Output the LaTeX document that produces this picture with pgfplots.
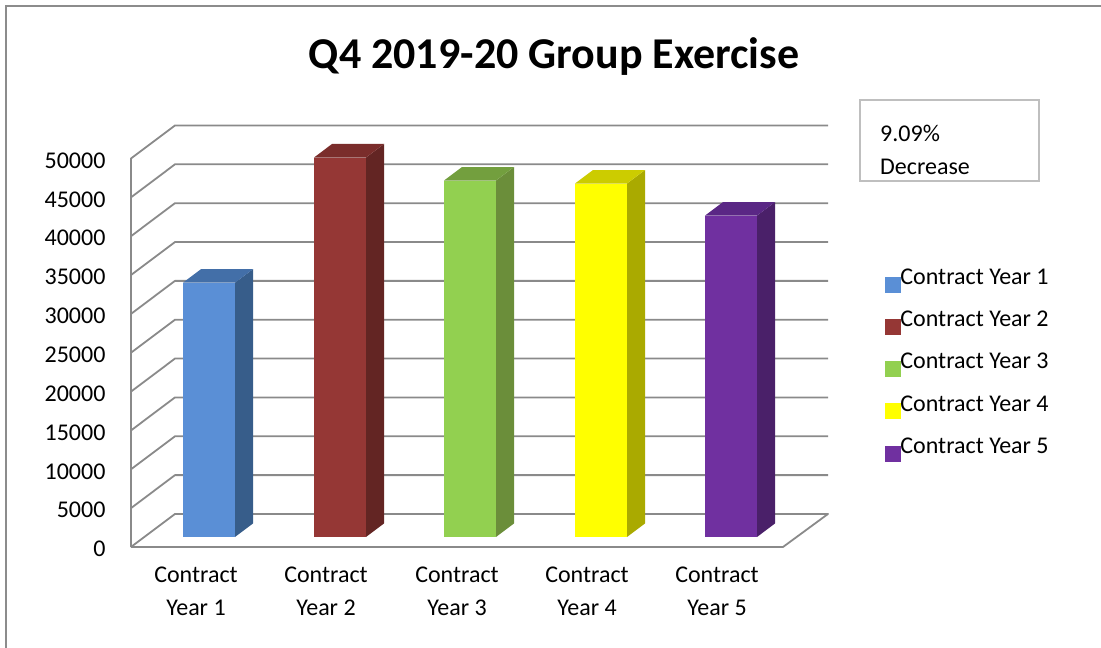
\documentclass[border=0pt]{standalone}
\usepackage{pgfplots}
\usepackage{fontspec}
\setmainfont{Carlito}
\pgfplotsset{compat=1.18}
\definecolor{gridc}{HTML}{8A8A8A}
\definecolor{frm}{HTML}{8C8C8C}
\definecolor{boxc}{HTML}{BFBFBF}
\definecolor{bluef}{HTML}{5A8FD6}\definecolor{blues}{HTML}{375D8A}\definecolor{bluet}{HTML}{436FA8}
\definecolor{redf}{HTML}{953735}\definecolor{reds}{HTML}{632523}\definecolor{redt}{HTML}{7A2D2B}
\definecolor{greenf}{HTML}{92D050}\definecolor{greens}{HTML}{6B8E3A}\definecolor{greent}{HTML}{739F3E}
\definecolor{yelf}{HTML}{FFFF00}\definecolor{yels}{HTML}{AAAA00}\definecolor{yelt}{HTML}{CCCC00}
\definecolor{purf}{HTML}{7030A0}\definecolor{purs}{HTML}{4A2069}\definecolor{purt}{HTML}{5A2785}
\newcommand{\chartfont}{\fontsize{24}{33}\selectfont}
\pgfplotsset{
  face/.style={fill=#1,draw=none,mark=none,forget plot,yshift=10pt},
  wall/.style={draw=gridc,line width=1.8pt,mark=none,forget plot,line join=round},
  legsq/.style={legend image code/.code={\fill[##1] (0pt,-7.5pt) rectangle (15pt,7.5pt);}}
}
\begin{document}
\begin{tikzpicture}
\begin{axis}[
  at={(0pt,0pt)},anchor=south west,
  x=1pt,y=0.00776pt,
  xmin=131,xmax=828,ymin=0,ymax=54253,
  clip=false,
  axis line style={draw=none},
  major tick length=0pt,
  tick style={draw=none},
  scaled y ticks=false,
  ytick={0,5000,10000,15000,20000,25000,30000,35000,40000,45000,50000},
  /pgf/number format/assume math mode=true,
  /pgf/number format/1000 sep={},
  yticklabel style={font=\chartfont,anchor=east,xshift=-22pt,yshift=-2pt},
  xtick={196,326,457,587,717},
  xticklabels={{Contract\\Year 1},{Contract\\Year 2},{Contract\\Year 3},{Contract\\Year 4},{Contract\\Year 5}},
  xticklabel style={font=\chartfont,align=center,anchor=north,yshift=-16pt},
  title={\textbf{Q4 2019-20 Group Exercise}},
  title style={font=\fontsize{44}{50}\selectfont,at={(axis description cs:0.607,1.121)},anchor=base},
  legend style={draw=none,fill=none,at={(axis description cs:1.0818,0.66)},anchor=north west,
    font=\chartfont,row sep=19pt,inner sep=0pt,outer sep=0pt,
    nodes={inner sep=0pt,anchor=base west},
    /tikz/every even column/.append style={column sep=6pt}},
  legend cell align=left,
]
% walls and floor
\addplot[wall] coordinates {(131,0)(131,50000)};
\addplot[wall] coordinates {(131,0)(783,0)(828,4253)(175,4253)(131,0)};
\addplot[wall] coordinates {(131,5000)(175,9253)(828,9253)};
\addplot[wall] coordinates {(131,10000)(175,14253)(828,14253)};
\addplot[wall] coordinates {(131,15000)(175,19253)(828,19253)};
\addplot[wall] coordinates {(131,20000)(175,24253)(828,24253)};
\addplot[wall] coordinates {(131,25000)(175,29253)(828,29253)};
\addplot[wall] coordinates {(131,30000)(175,34253)(828,34253)};
\addplot[wall] coordinates {(131,35000)(175,39253)(828,39253)};
\addplot[wall] coordinates {(131,40000)(175,44253)(828,44253)};
\addplot[wall] coordinates {(131,45000)(175,49253)(828,49253)};
\addplot[wall] coordinates {(131,50000)(175,54253)(828,54253)};
% Year 1
\addplot[face=bluef] coordinates {(183,0)(183,32732)(235,32732)(235,0)} --cycle;
\addplot[face=blues] coordinates {(235,0)(253,1740)(253,34472)(235,32732)} --cycle;
\addplot[face=bluet] coordinates {(183,32732)(201,34472)(253,34472)(235,32732)} --cycle;
% Year 2
\addplot[face=redf] coordinates {(314,0)(314,48840)(366,48840)(366,0)} --cycle;
\addplot[face=reds] coordinates {(366,0)(384,1740)(384,50580)(366,48840)} --cycle;
\addplot[face=redt] coordinates {(314,48840)(332,50580)(384,50580)(366,48840)} --cycle;
% Year 3
\addplot[face=greenf] coordinates {(444,0)(444,45876)(496,45876)(496,0)} --cycle;
\addplot[face=greens] coordinates {(496,0)(514,1740)(514,47616)(496,45876)} --cycle;
\addplot[face=greent] coordinates {(444,45876)(462,47616)(514,47616)(496,45876)} --cycle;
% Year 4
\addplot[face=yelf] coordinates {(575,0)(575,45489)(627,45489)(627,0)} --cycle;
\addplot[face=yels] coordinates {(627,0)(645,1740)(645,47229)(627,45489)} --cycle;
\addplot[face=yelt] coordinates {(575,45489)(593,47229)(645,47229)(627,45489)} --cycle;
% Year 5
\addplot[face=purf] coordinates {(705,0)(705,41366)(757,41366)(757,0)} --cycle;
\addplot[face=purs] coordinates {(757,0)(775,1740)(775,43106)(757,41366)} --cycle;
\addplot[face=purt] coordinates {(705,41366)(723,43106)(775,43106)(757,41366)} --cycle;
\addlegendimage{legsq,bluef}\addlegendentry{Contract Year 1}
\addlegendimage{legsq,redf}\addlegendentry{Contract Year 2}
\addlegendimage{legsq,greenf}\addlegendentry{Contract Year 3}
\addlegendimage{legsq,yelf}\addlegendentry{Contract Year 4}
\addlegendimage{legsq,purf}\addlegendentry{Contract Year 5}
\end{axis}
\path[use as bounding box] (-131pt,-101pt) rectangle (970pt,547pt);
\draw[frm,line width=1.8pt] (-125pt,-101pt) -- (-125pt,541pt) -- (970pt,541pt);
\draw[boxc,line width=1.8pt,fill=white] (729pt,366pt) rectangle (908pt,447pt);
\node[anchor=base west,inner sep=0pt,font=\chartfont] at (749pt,405pt) {9.09\%};
\node[anchor=base west,inner sep=0pt,font=\chartfont] at (749pt,372pt) {Decrease};
\end{tikzpicture}
\end{document}
